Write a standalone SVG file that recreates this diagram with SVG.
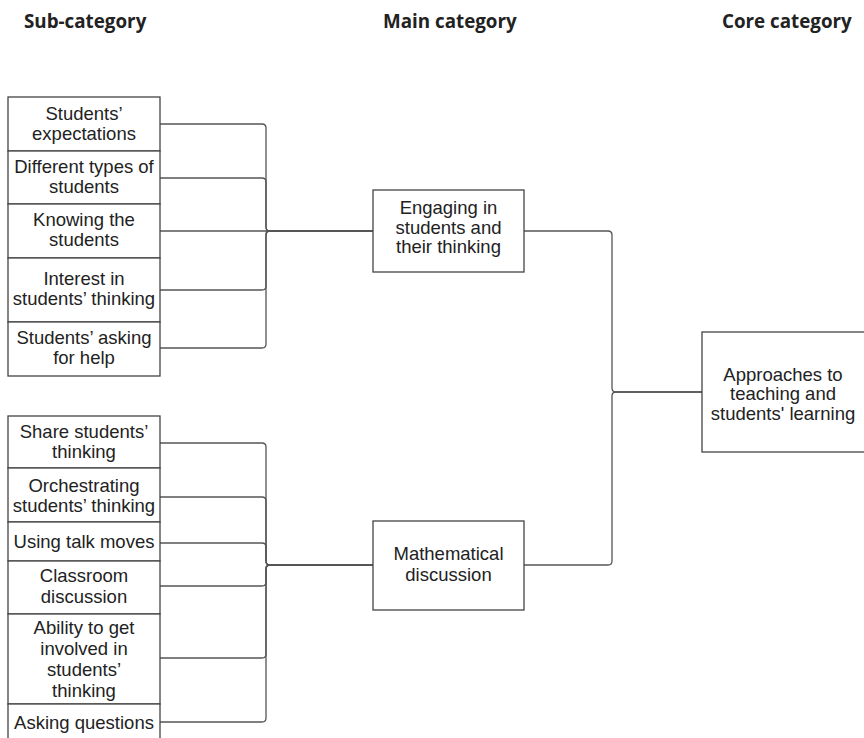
<svg xmlns="http://www.w3.org/2000/svg" width="864" height="738" viewBox="0 0 864 738">
<style>
.hdr{font-family:"Open Sans","Liberation Sans",sans-serif;font-weight:700;font-size:18.8px;fill:#222}
.box{fill:#fff;stroke:#444;stroke-width:1.3}
.t{font-family:"Liberation Sans",Arial,sans-serif;font-size:18.5px;fill:#222;text-anchor:middle}
.c{fill:none;stroke:#555;stroke-width:1.3}
</style>
<rect width="864" height="738" fill="#fff"/>
<g id="headers">
<text class="hdr" x="24" y="28">Sub-category</text>
<text class="hdr" x="383" y="28">Main category</text>
<text class="hdr" x="722" y="28">Core category</text>
</g>
<g id="connectors">
<path class="c" d="M160 124 H262 Q266 124 266 128 V227 Q266 231 270 231 H373"/>
<path class="c" d="M160 178 H262 Q266 178 266 182 V227 Q266 231 270 231 H373"/>
<path class="c" d="M160 231 H373"/>
<path class="c" d="M160 290 H262 Q266 290 266 286 V235 Q266 231 270 231 H373"/>
<path class="c" d="M160 348 H262 Q266 348 266 344 V235 Q266 231 270 231 H373"/>
<path class="c" d="M160 443 H262 Q266 443 266 447 V561 Q266 565 270 565 H373"/>
<path class="c" d="M160 497 H262 Q266 497 266 501 V561 Q266 565 270 565 H373"/>
<path class="c" d="M160 543 H262 Q266 543 266 547 V561 Q266 565 270 565 H373"/>
<path class="c" d="M160 586 H262 Q266 586 266 582 V569 Q266 565 270 565 H373"/>
<path class="c" d="M160 658 H262 Q266 658 266 654 V569 Q266 565 270 565 H373"/>
<path class="c" d="M160 722 H262 Q266 722 266 718 V569 Q266 565 270 565 H373"/>
<path class="c" d="M524 231 H608 Q612 231 612 235 V388 Q612 392 616 392 H702"/>
<path class="c" d="M524 565 H608 Q612 565 612 561 V396 Q612 392 616 392 H702"/>
</g>
<g id="s1"><rect class="box" x="8" y="97" width="152" height="54"/><text class="t" x="84" y="120">Students’</text><text class="t" x="84" y="140">expectations</text></g>
<g id="s2"><rect class="box" x="8" y="151" width="152" height="53"/><text class="t" x="84" y="173">Different types of</text><text class="t" x="84" y="193">students</text></g>
<g id="s3"><rect class="box" x="8" y="204" width="152" height="54"/><text class="t" x="84" y="226">Knowing the</text><text class="t" x="84" y="246">students</text></g>
<g id="s4"><rect class="box" x="8" y="258" width="152" height="64"/><text class="t" x="84" y="285">Interest in</text><text class="t" x="84" y="305">students’ thinking</text></g>
<g id="s5"><rect class="box" x="8" y="322" width="152" height="54"/><text class="t" x="84" y="344">Students’ asking</text><text class="t" x="84" y="364">for help</text></g>
<g id="s6"><rect class="box" x="8" y="416" width="152" height="52"/><text class="t" x="84" y="438">Share students’</text><text class="t" x="84" y="458">thinking</text></g>
<g id="s7"><rect class="box" x="8" y="468" width="152" height="54"/><text class="t" x="84" y="492">Orchestrating</text><text class="t" x="84" y="512">students’ thinking</text></g>
<g id="s8"><rect class="box" x="8" y="522" width="152" height="39"/><text class="t" x="84" y="548">Using talk moves</text></g>
<g id="s9"><rect class="box" x="8" y="561" width="152" height="53"/><text class="t" x="84" y="582">Classroom</text><text class="t" x="84" y="603">discussion</text></g>
<g id="s10"><rect class="box" x="8" y="614" width="152" height="90"/><text class="t" x="84" y="634">Ability to get</text><text class="t" x="84" y="655">involved in</text><text class="t" x="84" y="676">students’</text><text class="t" x="84" y="697">thinking</text></g>
<g id="s11"><rect class="box" x="8" y="704" width="152" height="40"/><text class="t" x="84" y="729">Asking questions</text></g>
<g id="m1"><rect class="box" x="373" y="190" width="151" height="82"/><text class="t" x="448.5" y="214">Engaging in</text><text class="t" x="448.5" y="233.5">students and</text><text class="t" x="448.5" y="253">their thinking</text></g>
<g id="m2"><rect class="box" x="373" y="521" width="151" height="89"/><text class="t" x="448.5" y="560">Mathematical</text><text class="t" x="448.5" y="581">discussion</text></g>
<g id="core"><rect class="box" x="702" y="332" width="166" height="120"/><text class="t" x="783" y="380.5">Approaches to</text><text class="t" x="783" y="400">teaching and</text><text class="t" x="783" y="419.5">students' learning</text></g>
</svg>
